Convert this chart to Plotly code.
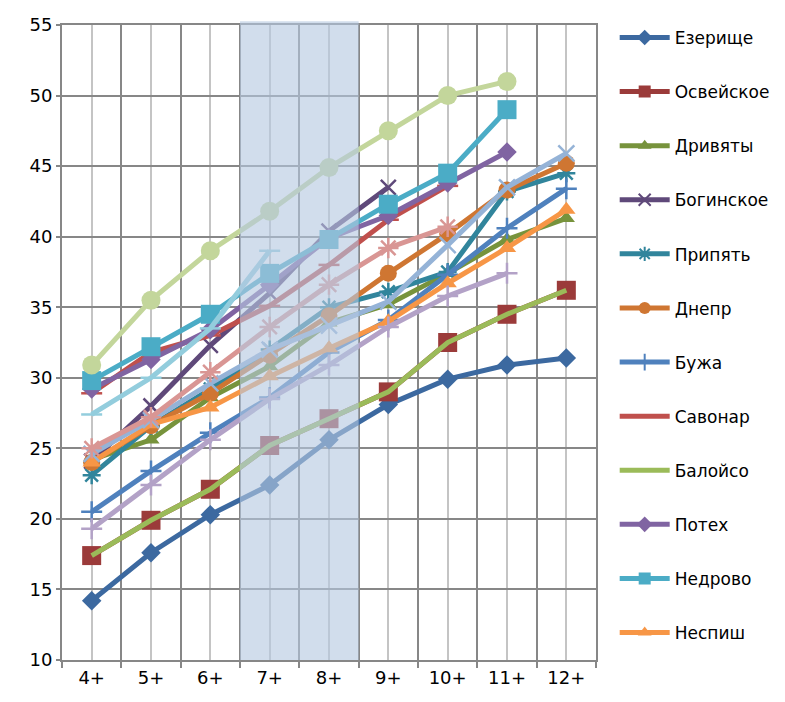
import plotly.graph_objects as go

categories = ["4+", "5+", "6+", "7+", "8+", "9+", "10+", "11+", "12+"]

# legend series
ezerishche = [14.2, 17.6, 20.3, 22.4, 25.6, 28.1, 29.9, 30.9, 31.4]
osveyskoe = [17.4, 19.9, 22.1, 25.2, 27.1, 29.0, 32.5, 34.5, 36.2]
drivyaty = [24.2, 25.6, 28.6, 30.8, 33.9, 35.2, 37.4, 39.8, 41.3]
boginskoe = [24.1, 28.0, 32.3, 36.0, 40.4, 43.5, None, None, None]
pripyat = [23.1, 26.6, 29.2, 32.0, 35.0, 36.1, 37.5, 43.2, 44.5]
dnepr = [24.0, 26.6, 28.9, 31.6, 34.4, 37.4, 40.2, 43.3, 45.2]
buzha = [20.5, 23.4, 26.1, 28.6, 31.8, 34.1, 37.3, 40.6, 43.4]
savonar = [28.9, 31.8, 33.0, 35.1, 38.0, 41.2, 43.6, None, None]
baloyso = [17.4, 19.9, 22.1, 25.2, 27.1, 29.0, 32.5, 34.5, 36.2]
potekh = [29.2, 31.3, 33.4, 36.6, 39.9, 41.5, 43.8, 46.0, None]
nedrovo = [29.8, 32.2, 34.5, 37.4, 39.8, 42.3, 44.5, 49.0, None]
nespish = [24.0, 26.7, 27.9, 30.1, 32.1, 34.0, 36.7, 39.2, 41.9]

# extra series (not shown in the legend)
extra_1 = [24.6, 27.0, 29.6, 32.0, 33.7, 35.4, 39.4, 43.5, 45.9]
extra_2 = [25.0, 27.2, 30.4, 33.6, 36.6, 39.2, 40.7, None, None]
extra_3 = [30.9, 35.5, 39.0, 41.8, 44.9, 47.5, 50.0, 51.0, None]
extra_4 = [19.3, 22.4, 25.6, 28.5, 30.9, 33.6, 35.8, 37.4, None]
extra_5 = [27.4, 30.0, 33.5, 39.0, None, None, None, None, None]

highlight = ["7+", "8+"]

xs = list(range(len(categories)))

series = [
    ("Езерище", ezerishche, "#3C69A0", "diamond", 15, True),
    ("Освейское", osveyskoe, "#9B3B3A", "square", 19, True),
    ("Дривяты", drivyaty, "#77933C", "triangle-up", 15, True),
    ("Богинское", boginskoe, "#5F497A", "x-thin-open", 15, True),
    ("Припять", pripyat, "#31859C", "asterisk-open", 15, True),
    ("Днепр", dnepr, "#CF7632", "circle", 17, True),
    ("Бужа", buzha, "#4F81BD", "cross-thin-open", 15, True),
    ("Савонар", savonar, "#C0504D", "line-ew-open", 15, True),
    ("Балойсо", baloyso, "#9BBB59", None, 0, True),
    ("Потех", potekh, "#8064A2", "diamond", 15, True),
    ("Недрово", nedrovo, "#4BACC6", "square", 19, True),
    ("Неспиш", nespish, "#F79646", "triangle-up", 16, True),
    ("ряд 13", extra_1, "#95B3D7", "x-thin-open", 16, False),
    ("ряд 14", extra_2, "#D99694", "asterisk-open", 17, False),
    ("ряд 15", extra_3, "#C3D69B", "circle", 19, False),
    ("ряд 16", extra_4, "#B3A2C7", "cross-thin-open", 15, False),
    ("ряд 17", extra_5, "#93CDDD", "line-ew-open", 15, False),
]

fig = go.Figure()
for i, (name, vals, color, sym, size, show) in enumerate(series):
    if sym is None:
        fig.add_trace(go.Scatter(x=xs, y=vals, name=name, mode="lines",
                                 line=dict(color=color, width=5),
                                 showlegend=show, legendgroup=str(i)))
        continue
    fig.add_trace(go.Scatter(
        x=xs, y=vals, name=name, mode="lines+markers",
        line=dict(color=color, width=5),
        marker=dict(symbol=sym, size=size, color=color,
                    line=dict(color=color, width=2.5 if "open" in sym else 0)),
        showlegend=show, legendgroup=str(i)))

fig.add_shape(type="rect", xref="x", yref="paper",
              x0=categories.index(highlight[0]) - 0.5,
              x1=categories.index(highlight[-1]) + 0.5,
              y0=0, y1=1.006, layer="above", line_width=0,
              fillcolor="rgb(180,200,225)", opacity=0.62)

fig.update_xaxes(range=[-0.5, len(categories) - 0.5],
                 tickvals=xs, ticktext=categories, ticks="",
                 showgrid=True, gridcolor="#C4C4C4", gridwidth=2,
                 minor=dict(tickvals=[x - 0.5 for x in xs] + [len(xs) - 0.5],
                            showgrid=True, gridcolor="#878787", gridwidth=2,
                            ticks="outside", ticklen=6, tickcolor="#878787",
                            tickwidth=2),
                 showline=True, linecolor="#878787", linewidth=2, mirror=True,
                 zeroline=False, tickfont=dict(size=18, color="black"))
fig.update_yaxes(range=[10, 55], dtick=5, ticks="outside", ticklen=4,
                 tickcolor="#878787", tickwidth=2,
                 showgrid=True, gridcolor="#878787", gridwidth=2,
                 showline=True, linecolor="#878787", linewidth=2, mirror=True,
                 zeroline=False, tickfont=dict(size=18, color="black"))

fig.update_layout(
    width=777, height=694,
    margin=dict(l=54, r=189, t=17, b=42, autoexpand=False),
    plot_bgcolor="white", paper_bgcolor="white",
    font=dict(family="DejaVu Sans", color="black"),
    legend=dict(x=1.035, y=1.008, xanchor="left", yanchor="top",
                font=dict(size=17), itemwidth=50, itemsizing="constant",
                traceorder="grouped", tracegroupgap=29, maxheight=690),
)

fig.write_html("out.html")
